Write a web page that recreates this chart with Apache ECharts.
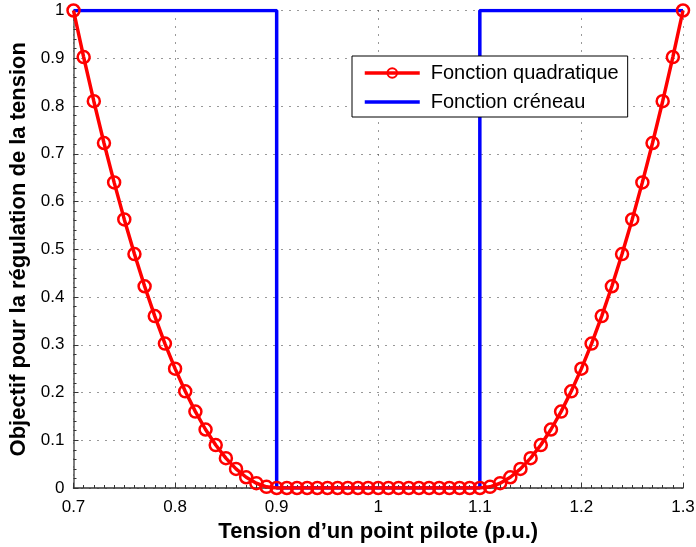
<!DOCTYPE html>
<html>
<head>
<meta charset="utf-8">
<script src="https://cdn.jsdelivr.net/npm/echarts@6/dist/echarts.min.js"></script>
<style>html,body{margin:0;padding:0;background:#fff}#c{width:696px;height:547px}</style>
</head>
<body>
<div id="c"></div>
<script>
const xs = [0.70,0.71,0.72,0.73,0.74,0.75,0.76,0.77,0.78,0.79,0.80,0.81,0.82,0.83,0.84,0.85,0.86,0.87,0.88,0.89,
  0.90,0.91,0.92,0.93,0.94,0.95,0.96,0.97,0.98,0.99,1.00,1.01,1.02,1.03,1.04,1.05,1.06,1.07,1.08,1.09,1.10,
  1.11,1.12,1.13,1.14,1.15,1.16,1.17,1.18,1.19,1.20,1.21,1.22,1.23,1.24,1.25,1.26,1.27,1.28,1.29,1.30];
const quadratique = [1.0,0.9025,0.81,0.7225,0.64,0.5625,0.49,0.4225,0.36,0.3025,0.25,0.2025,0.16,0.1225,0.09,0.0625,0.04,0.0225,0.01,0.0025,
  0,0,0,0,0,0,0,0,0,0,0,0,0,0,0,0,0,0,0,0,0,
  0.0025,0.01,0.0225,0.04,0.0625,0.09,0.1225,0.16,0.2025,0.25,0.3025,0.36,0.4225,0.49,0.5625,0.64,0.7225,0.81,0.9025,1.0];
const creneauX = [0.7,0.9,0.9,1.1,1.1,1.3];
const creneauY = [1,1,0,0,1,1];
const xTicks = [0.7,0.8,0.9,1,1.1,1.2,1.3];
const yTicks = [0,0.1,0.2,0.3,0.4,0.5,0.6,0.7,0.8,0.9,1];

const chart = echarts.init(document.getElementById('c'), null, {renderer:'canvas'});
const font = 'Liberation Sans, Arial, Helvetica, sans-serif';
const grid = {type:[1,7], color:'#333', width:1};
chart.setOption({
  animation:false,
  grid:{left:73.5, right:13, top:10.5, bottom:59, containLabel:false, outerBoundsMode:'none'},
  legend:{
    left:352, top:56, orient:'vertical',
    backgroundColor:'#fff', borderColor:'#000', borderWidth:1,
    padding:[7,9,5,11], itemGap:9, itemWidth:55, itemHeight:12,
    textStyle:{fontFamily:font, fontSize:20, color:'#000', padding:[0,0,0,6]},
    data:[
      {name:'Fonction quadratique', lineStyle:{width:3.5}},
      {name:'Fonction créneau', itemStyle:{opacity:0}, lineStyle:{width:3.5}}
    ]
  },
  xAxis:{
    type:'value', min:0.7, max:1.3, interval:0.1,
    name:'Tension d’un point pilote (p.u.)', nameLocation:'middle', nameGap:24,
    nameTextStyle:{fontFamily:font, fontSize:22, fontWeight:'bold', color:'#000'},
    axisLine:{show:true, onZero:false, lineStyle:{color:'#333', width:1.5}},
    axisTick:{show:true, inside:true, length:5, lineStyle:{color:'#333'}},
    minorTick:{show:true, splitNumber:10, length:3, lineStyle:{color:'#333'}},
    axisLabel:{fontFamily:font, fontSize:17, color:'#000', margin:11,
      formatter:v=>{const t=xTicks.find(k=>Math.abs(k-v)<1e-6);return t===undefined?'':String(t);}},
    splitLine:{show:true, lineStyle:grid}
  },
  yAxis:{
    type:'value', min:0, max:1, interval:0.1,
    name:'Objectif pour la régulation de la tension', nameLocation:'middle', nameGap:36,
    nameTextStyle:{fontFamily:font, fontSize:22, fontWeight:'bold', color:'#000'},
    axisLine:{show:true, onZero:false, lineStyle:{color:'#555', width:1.5}},
    axisTick:{show:true, inside:true, length:5, lineStyle:{color:'#333'}},
    minorTick:{show:true, splitNumber:5, length:3, lineStyle:{color:'#333'}},
    axisLabel:{fontFamily:font, fontSize:17, color:'#000', margin:9,
      formatter:v=>{const t=yTicks.find(k=>Math.abs(k-v)<1e-6);return t===undefined?'':String(t);}},
    splitLine:{show:true, lineStyle:grid}
  },
  series:[
    {
      name:'Fonction quadratique', type:'line', z:3,
      data:xs.map((x,i)=>[x,quadratique[i]]),
      symbol:'circle', symbolSize:12, showSymbol:true,
      lineStyle:{color:'#ff0000', width:3.5},
      itemStyle:{color:'rgba(255,255,255,0)', borderColor:'#ff0000', borderWidth:2.5},
      emphasis:{disabled:true}
    },
    {
      name:'Fonction créneau', type:'line', z:2,
      data:creneauX.map((x,i)=>[x,creneauY[i]]),
      symbol:'none', showSymbol:false,
      lineStyle:{color:'#0000ff', width:3.5},
      itemStyle:{color:'#0000ff'},
      emphasis:{disabled:true}
    }
  ]
});
</script>
</body>
</html>
